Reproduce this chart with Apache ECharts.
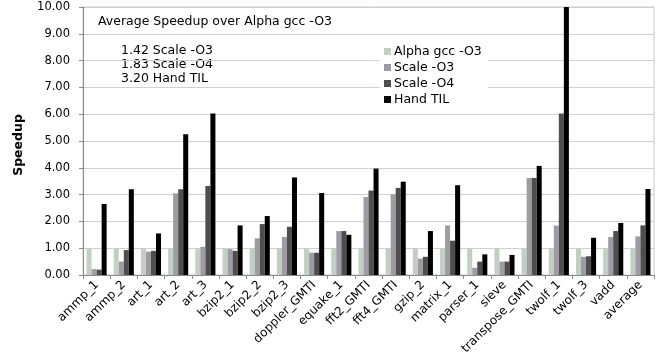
<!DOCTYPE html>
<html><head><meta charset="utf-8">
<script src="https://cdn.jsdelivr.net/npm/echarts@6/dist/echarts.min.js"></script>
<style>html,body{margin:0;padding:0;background:#fff}#c{width:657px;height:364px}</style>
</head><body><div id="c"></div>
<script>
var categories = ['ammp_1','ammp_2','art_1','art_2','art_3','bzip2_1','bzip2_2','bzip2_3','doppler_GMTI','equake_1','fft2_GMTI','fft4_GMTI','gzip_2','matrix_1','parser_1','sieve','transpose_GMTI','twolf_1','twolf_3','vadd','average'];
var alphaGcc = [1,1,1,1,1,1,1,1,1,1,1,1,1,1,1,1,1,1,1,1,1];
var scaleO3 = [0.22,0.50,0.87,3.05,1.05,0.97,1.37,1.42,0.83,1.64,2.91,3.01,0.61,1.85,0.27,0.50,3.62,1.84,0.68,1.42,1.44];
var scaleO4 = [0.20,0.93,0.90,3.20,3.32,0.90,1.90,1.80,0.83,1.64,3.15,3.25,0.68,1.28,0.50,0.50,3.62,6.03,0.70,1.64,1.85];
var handTIL = [2.65,3.20,1.55,5.25,6.03,1.85,2.20,3.64,3.06,1.50,3.97,3.48,1.64,3.35,0.77,0.75,4.07,10.00,1.39,1.94,3.21];
var seriesNames = ['Alpha gcc -O3','Scale -O3','Scale -O4','Hand TIL'];
var yTicks = {min:0, max:10, interval:1};
var titleText = 'Average Speedup over Alpha gcc -O3';
var summaryLines = ['1.42 Scale -O3','1.83 Scale -O4','3.20 Hand TIL'];

var colors = ['#c4cfc4','#9f9ba4','#4e4e4e','#000000'];
var font = '"DejaVu Sans", Verdana, sans-serif';
var chart = echarts.init(document.getElementById('c'), null, {renderer:'canvas'});
var data = [alphaGcc, scaleO3, scaleO4, handTIL];
chart.setOption({
  animation:false,
  textStyle:{fontFamily:font},
  grid:{left:83, right:3, top:7, bottom:89, show:true, borderColor:'#c8c8c8', borderWidth:1},
  legend:{orient:'vertical', left:380, top:42, itemWidth:7, itemHeight:7, itemGap:3,
    backgroundColor:'#ffffff', padding:[3,6,3,4],
    icon:'rect',
    textStyle:{fontFamily:font, fontSize:12.5, color:'#000', padding:[0,0,0,-2]},
    data:seriesNames},
  xAxis:{type:'category', data:categories,
    axisLine:{lineStyle:{color:'#8c8c8c'}},
    axisTick:{show:true, alignWithLabel:false, length:4, lineStyle:{color:'#8c8c8c'}},
    axisLabel:{interval:0, rotate:45, fontSize:12, color:'#000', fontFamily:font, margin:8}},
  yAxis:{type:'value', min:yTicks.min, max:yTicks.max, interval:yTicks.interval,
    axisLine:{show:true, lineStyle:{color:'#8c8c8c'}},
    axisTick:{show:true, length:4, lineStyle:{color:'#8c8c8c'}},
    splitLine:{lineStyle:{color:'#d0d0d0'}},
    axisLabel:{formatter:function(v){return v.toFixed(2);}, fontSize:11.5, color:'#000', fontFamily:font, margin:13}},
  graphic:[
    {type:'text', x:19, y:145, rotation:Math.PI/2, style:{text:'Speedup', fontFamily:font, fontWeight:'bold', fontSize:12.5, fill:'#000', align:'center', verticalAlign:'middle'}},
    {type:'text', x:98, y:22, style:{text:titleText, fontFamily:font, fontSize:12.5, fill:'#000', verticalAlign:'middle'}},
    {type:'text', x:121, y:44, style:{text:summaryLines.join('\n'), fontFamily:font, fontSize:12.5, fill:'#000', lineHeight:13.8}}
  ],
  series: seriesNames.map(function(n,i){
    return {name:n, type:'bar', data:data[i], barGap:'0%', barCategoryGap:'26%',
      itemStyle:{color:colors[i]}, z:2};
  })
});
</script></body></html>
